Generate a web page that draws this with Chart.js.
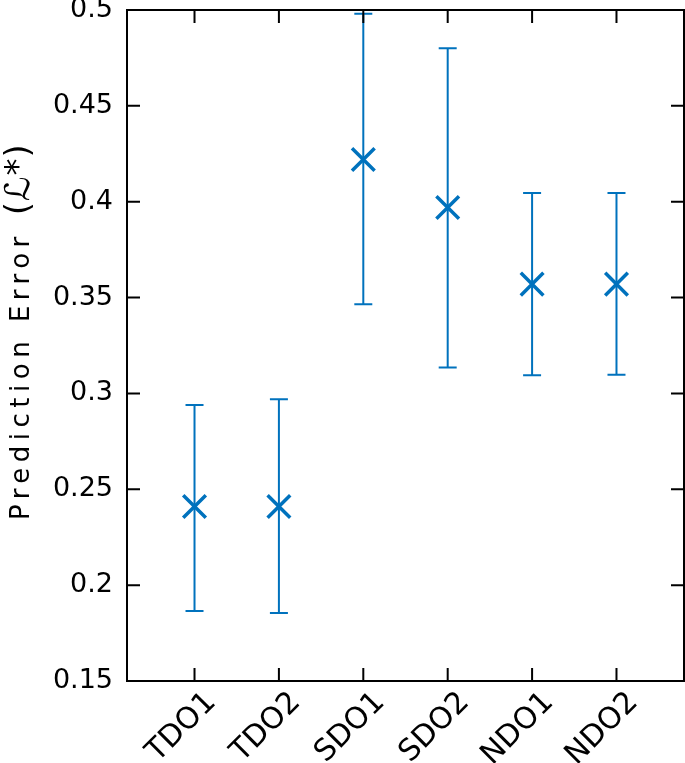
<!DOCTYPE html>
<html>
<head>
<meta charset="utf-8">
<script src="https://cdn.jsdelivr.net/npm/chart.js@4"></script>
<style>
html,body{margin:0;padding:0;background:#fff;}
#wrap{width:685px;height:763px;}
</style>
</head>
<body>
<div id="wrap"><canvas id="c" width="685" height="763"></canvas></div>
<script>
const categories = ["TDO1","TDO2","SDO1","SDO2","NDO1","NDO2"];
const meanValues = [0.241, 0.241, 0.422, 0.397, 0.357, 0.357];
const upperValues = [0.294, 0.297, 0.498, 0.480, 0.4045, 0.4045];
const lowerValues = [0.1865, 0.1855, 0.3465, 0.3135, 0.3095, 0.3098];
const yTickValues = [0.15, 0.2, 0.25, 0.3, 0.35, 0.4, 0.45, 0.5];
const yTickLabels = ["0.15","0.2","0.25","0.3","0.35","0.4","0.45","0.5"];
const yTitleText = "Prediction Error";
const yTitleSymbol = "(\u2112*)";

const BLUE = "#0072BD";
const FONT = "'DejaVu Sans', sans-serif";

const points = categories.map((c, i) => ({x: i + 1, y: meanValues[i], lo: lowerValues[i], hi: upperValues[i]}));

const errorBars = {
  id: 'errorBars',
  afterDatasetsDraw(chart) {
    const ctx = chart.ctx, xs = chart.scales.x, ys = chart.scales.y;
    ctx.save();
    ctx.strokeStyle = BLUE;
    ctx.lineWidth = 2;
    const cap = 9;
    points.forEach(p => {
      const px = xs.getPixelForValue(p.x);
      const yl = ys.getPixelForValue(p.lo), yh = ys.getPixelForValue(p.hi);
      ctx.beginPath();
      ctx.moveTo(px, yl); ctx.lineTo(px, yh);
      ctx.moveTo(px - cap, yl); ctx.lineTo(px + cap, yl);
      ctx.moveTo(px - cap, yh); ctx.lineTo(px + cap, yh);
      ctx.stroke();
    });
    ctx.restore();
  }
};

const frame = {
  id: 'frame',
  afterDraw(chart) {
    const ctx = chart.ctx, a = chart.chartArea, xs = chart.scales.x, ys = chart.scales.y;
    ctx.save();
    ctx.strokeStyle = '#000';
    ctx.lineWidth = 2;
    ctx.strokeRect(a.left, a.top, a.right - a.left, a.bottom - a.top);
    const L = 13;
    ctx.beginPath();
    xs.ticks.forEach(t => {
      const px = xs.getPixelForValue(t.value);
      ctx.moveTo(px, a.bottom); ctx.lineTo(px, a.bottom - L);
      ctx.moveTo(px, a.top); ctx.lineTo(px, a.top + L);
    });
    ys.ticks.forEach(t => {
      const py = ys.getPixelForValue(t.value);
      ctx.moveTo(a.left, py); ctx.lineTo(a.left + L, py);
      ctx.moveTo(a.right, py); ctx.lineTo(a.right - L, py);
    });
    ctx.stroke();
    // y-axis title
    ctx.fillStyle = '#000';
    ctx.translate(29, 520);
    ctx.rotate(-Math.PI / 2);
    ctx.textAlign = 'left';
    ctx.textBaseline = 'alphabetic';
    ctx.font = "26px " + FONT;
    if ('letterSpacing' in ctx) ctx.letterSpacing = '5.5px';
    ctx.fillText(yTitleText, 0, 0);
    const w = ctx.measureText(yTitleText).width;
    ctx.font = "34px " + FONT;
    if ('letterSpacing' in ctx) ctx.letterSpacing = '1px';
    ctx.fillText(yTitleSymbol, w + 16, 0);
    ctx.restore();
  }
};

function noPad(s) { s.paddingTop = 0; s.paddingBottom = 0; s.paddingLeft = 0; s.paddingRight = 0; }

new Chart(document.getElementById('c'), {
  type: 'scatter',
  data: {
    datasets: [{
      data: points,
      pointStyle: 'crossRot',
      pointRadius: 16,
      pointHoverRadius: 16,
      pointBorderWidth: 3.5,
      pointBorderColor: BLUE,
      pointBackgroundColor: BLUE,
      showLine: false
    }]
  },
  options: {
    responsive: false,
    animation: false,
    devicePixelRatio: 1,
    layout: {autoPadding: false, padding: {top: 10, right: 1, left: 0, bottom: 0}},
    plugins: {legend: {display: false}, tooltip: {enabled: false}},
    scales: {
      x: {
        type: 'linear',
        min: 0.2, max: 6.8,
        afterBuildTicks(s) { s.ticks = categories.map((c, i) => ({value: i + 1})); },
        afterFit(s) { s.height = 82; noPad(s); },
        grid: {display: false, drawTicks: false},
        border: {display: false},
        ticks: {
          autoSkip: false,
          maxRotation: 45, minRotation: 45,
          padding: 4,
          labelOffset: 17,
          color: '#000',
          font: {family: FONT, size: 30},
          callback: (v) => categories[Math.round(v) - 1] || ''
        }
      },
      y: {
        min: 0.15, max: 0.5,
        afterBuildTicks(s) { s.ticks = yTickValues.map(v => ({value: v})); },
        afterFit(s) { s.width = 127; noPad(s); },
        grid: {display: false, drawTicks: false},
        border: {display: false},
        ticks: {
          padding: 14,
          color: '#000',
          font: {family: FONT, size: 27},
          callback: (v) => { const i = yTickValues.findIndex(t => Math.abs(t - v) < 1e-9); return i >= 0 ? yTickLabels[i] : ''; }
        }
      }
    }
  },
  plugins: [errorBars, frame]
});
</script>
</body>
</html>
